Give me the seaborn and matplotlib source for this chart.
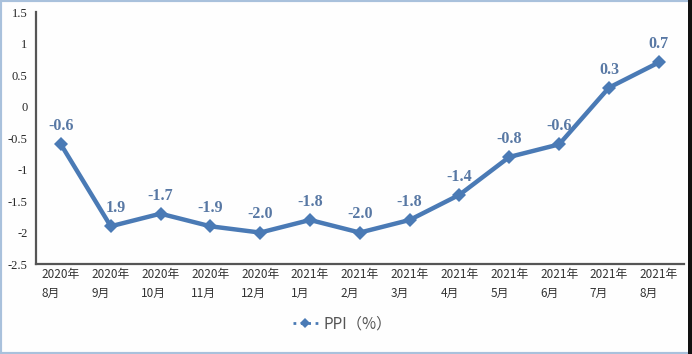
import numpy as np
import pandas as pd
import matplotlib.pyplot as plt
import seaborn as sns
from matplotlib.lines import Line2D
from matplotlib.patches import Rectangle

months = ['2020年\n8月', '2020年\n9月', '2020年\n10月', '2020年\n11月', '2020年\n12月',
          '2021年\n1月', '2021年\n2月', '2021年\n3月', '2021年\n4月', '2021年\n5月',
          '2021年\n6月', '2021年\n7月', '2021年\n8月']
ppi = [-0.6, -1.9, -1.7, -1.9, -2.0, -1.8, -2.0, -1.8, -1.4, -0.8, -0.6, 0.3, 0.7]
point_labels = ['-0.6', '1.9', '-1.7', '-1.9', '-2.0', '-1.8', '-2.0', '-1.8', '-1.4', '-0.8', '-0.6', '0.3', '0.7']
yticks = [1.5, 1, 0.5, 0, -0.5, -1, -1.5, -2, -2.5]

sns.set_style("white")
plt.rcParams['font.family'] = ['Noto Sans CJK SC', 'DejaVu Sans']

line_color = '#4a7ab5'
label_color = '#5878a4'

df = pd.DataFrame({'pos': np.arange(len(months)), 'ppi': ppi})

fig = plt.figure(figsize=(6.92, 3.54), dpi=100, facecolor='#fefefe')
ax = fig.add_axes([0.052, 0.254, 0.936, 0.712])
ax.set_facecolor('#fefefe')

sns.lineplot(data=df, x='pos', y='ppi', ax=ax, color=line_color, linewidth=3.2,
             marker='D', markersize=7, markeredgecolor=line_color, markeredgewidth=0)

for i, (v, t) in enumerate(zip(ppi, point_labels)):
    dx = 0.0 if i != 1 else 0.1
    ax.text(i + dx, v + 0.16, t, ha='center', va='bottom', color=label_color,
            fontsize=11.5, fontweight='bold', family='Liberation Serif')

ax.set_xlim(-0.5, len(months) - 0.5)
ax.set_ylim(-2.5, 1.5)
ax.set_yticks(yticks)
ax.set_yticklabels([('%g' % t) for t in yticks], family='Liberation Serif', fontsize=9)
ax.set_xticks(df['pos'])
ax.set_xticklabels(months, fontsize=8.5, color='#333333', multialignment='left',
                   linespacing=1.55)
ax.tick_params(axis='x', length=0, pad=3)
ax.tick_params(axis='y', length=0, pad=6)
ax.set_xlabel('')
ax.set_ylabel('')

for s in ['top', 'right']:
    ax.spines[s].set_visible(False)
for s in ['left', 'bottom']:
    ax.spines[s].set_color('#555555')
    ax.spines[s].set_linewidth(1.6)

handle = Line2D([0], [0], color=line_color, linewidth=2, linestyle=':', marker='D',
                markersize=5, markeredgewidth=0)
fig.legend([handle], ['PPI（%）'], loc='center', bbox_to_anchor=(0.495, 0.085),
           frameon=False, fontsize=11, handlelength=1.6, handletextpad=0.4,
           labelcolor='#555555')

fig.patches.append(Rectangle((0, 0), 1, 1, transform=fig.transFigure, fill=False,
                             edgecolor='#a9c1dc', linewidth=3))
fig.patches.append(Rectangle((0.994, 0), 0.006, 1, transform=fig.transFigure,
                             facecolor='#111111', edgecolor='none'))

fig.savefig('out.png', dpi=100, facecolor=fig.get_facecolor())
